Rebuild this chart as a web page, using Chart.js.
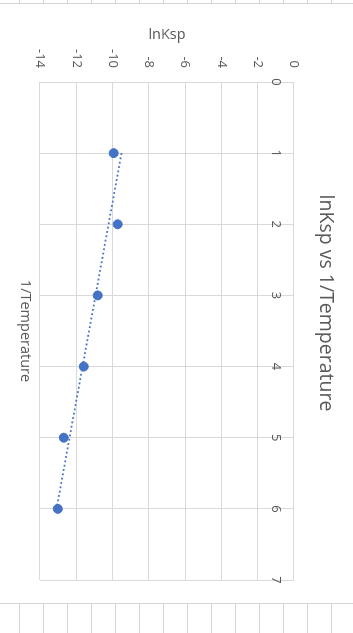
<!DOCTYPE html>
<html>
<head>
<meta charset="utf-8">
<script src="https://cdn.jsdelivr.net/npm/chart.js@4/dist/chart.umd.min.js"></script>
<style>
    html, body { margin: 0; padding: 0; background: #fff; }
    body { width: 353px; height: 633px; position: relative; overflow: hidden; }
    .sheet {
        position: absolute; left: 0; width: 353px;
        background: repeating-linear-gradient(to right, transparent 0 19px, #d4d4d4 19px 20px, transparent 20px 24px);
    }
    #sheetTop { top: 0; height: 3px; border-bottom: 1px solid #d4d4d4; }
    #sheetBottom { top: 603px; height: 30px; border-top: 1px solid #d4d4d4; }
    #chartBox {
        position: absolute; left: 0; top: 0;
        width: 598px; height: 353px; background: #fff;
        transform-origin: 0 0;
        transform: translate(353px, 4px) rotate(90deg);
    }
</style>
</head>
<body>
<div class="sheet" id="sheetTop"></div>
<div class="sheet" id="sheetBottom"></div>
<div id="chartBox"><canvas id="scatter1"></canvas></div>

<script>
// values
const inverseTemp = [1, 2, 3, 4, 5, 6]
const lnKsp = [-9.94, -9.72, -10.82, -11.59, -12.69, -13.02]
const xTicks = [0, 1, 2, 3, 4, 5, 6, 7]
const yTicks = [-14, -12, -10, -8, -6, -4, -2, 0]

const blue = '#4472C4'
const gridColor = '#d9d9d9'

// linear trendline (least squares), like the spreadsheet one
function trendline(xs, ys) {
    const n = xs.length
    const mx = xs.reduce((a, b) => a + b, 0) / n
    const my = ys.reduce((a, b) => a + b, 0) / n
    let sxy = 0, sxx = 0
    for (let i = 0; i < n; i++) {
        sxy += (xs[i] - mx) * (ys[i] - my)
        sxx += (xs[i] - mx) * (xs[i] - mx)
    }
    const slope = sxy / sxx
    const b = my - slope * mx
    const x0 = Math.min(...xs), x1 = Math.max(...xs)
    return [{x: x0, y: slope * x0 + b}, {x: x1, y: slope * x1 + b}]
}

function render_scatter(canvas_id) {
    const ctx = document.getElementById(canvas_id)
    const points = inverseTemp.map((x, i) => ({x: x, y: lnKsp[i]}))

    Chart.defaults.font.family = "'Open Sans', sans-serif"
    Chart.defaults.color = '#595959'

    new Chart(ctx, {
        type: 'scatter',
        data: {
            datasets: [{
                label: 'lnKsp',
                data: points,
                backgroundColor: blue,
                borderColor: blue,
                pointRadius: 4.5,
                pointHoverRadius: 4.5
            }, {
                label: 'Linear (lnKsp)',
                data: trendline(inverseTemp, lnKsp),
                showLine: true,
                borderColor: blue,
                borderWidth: 1.8,
                borderDash: [1.8, 2.6],
                pointRadius: 0
            }]
        },
        options: {
            responsive: true,
            maintainAspectRatio: false,
            animation: false,
            devicePixelRatio: 1,
            layout: { padding: 0 },
            plugins: {
                legend: { display: false },
                tooltip: { enabled: false },
                title: {
                    display: true,
                    text: 'lnKsp vs 1/Temperature',
                    color: '#595959',
                    font: { size: 19.5, weight: 'normal' },
                    padding: { top: 15.3, bottom: 20.3 }
                }
            },
            scales: {
                x: {
                    type: 'linear',
                    position: 'bottom',
                    min: xTicks[0],
                    max: xTicks[xTicks.length - 1],
                    ticks: { display: false, stepSize: 1 },
                    grid: { color: gridColor, drawTicks: false },
                    border: { display: false },
                    title: {
                        display: true,
                        text: '1/Temperature',
                        font: { size: 14.5 },
                        padding: { top: 0, bottom: 16.3 }
                    },
                    afterFit: s => { s.width = 0; s.height = 40 }
                },
                x2: {
                    type: 'linear',
                    axis: 'x',
                    position: { y: 0 },
                    min: xTicks[0],
                    max: xTicks[xTicks.length - 1],
                    ticks: { stepSize: 1, padding: 2.5, font: { size: 13 }, autoSkip: false, maxRotation: 0 },
                    grid: { display: false },
                    border: { display: false }
                },
                y: {
                    type: 'linear',
                    min: yTicks[0],
                    max: yTicks[yTicks.length - 1],
                    ticks: { stepSize: 2, padding: 14, font: { size: 13 } },
                    grid: { color: gridColor, drawTicks: false },
                    border: { display: false },
                    title: {
                        display: true,
                        text: 'lnKsp',
                        font: { size: 14.5 },
                        padding: { top: 22.3, bottom: 0 }
                    },
                    afterFit: s => { s.width = 78 }
                },
                // empty right-hand strip, so the title stays centred on the whole chart
                yRight: {
                    type: 'linear',
                    axis: 'y',
                    position: 'right',
                    min: yTicks[0],
                    max: yTicks[yTicks.length - 1],
                    ticks: { display: false },
                    grid: { display: false },
                    border: { display: false },
                    afterFit: s => { s.width = 22 }
                }
            }
        }
    })
}

render_scatter('scatter1')
</script>
</body>
</html>
